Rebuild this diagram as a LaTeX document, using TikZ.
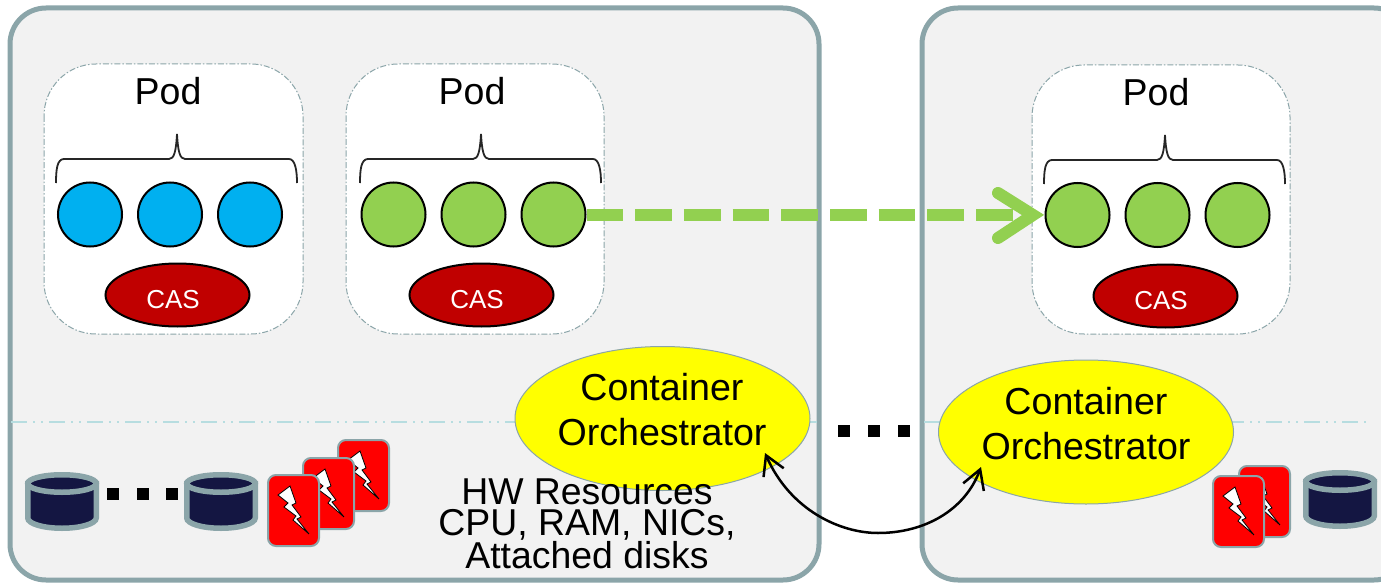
\documentclass[tikz,border=0pt]{standalone}
\usepackage{fontspec}
\setmainfont{Liberation Sans}
\usetikzlibrary{arrows.meta,shapes.geometric}
\definecolor{panelline}{HTML}{8BA5A9}
\definecolor{panelfill}{HTML}{F2F2F2}
\definecolor{sepline}{HTML}{B7DDE0}
\definecolor{cpblue}{HTML}{00B0F0}
\definecolor{cpgreen}{HTML}{92D050}
\definecolor{casred}{HTML}{C00000}
\definecolor{disknavy}{HTML}{141642}
\definecolor{orchyellow}{HTML}{FFFF00}
\definecolor{cardred}{HTML}{FF0000}
\tikzset{
  panelbox/.style={draw=panelline,fill=panelfill,line width=5pt,rounded corners=36pt},
  podbox/.style={draw=panelline,fill=white,line width=1pt,dash pattern=on 6pt off 2pt on 1.5pt off 2pt,rounded corners=52pt},
  sepstyle/.style={draw=sepline,line width=1.5pt,dash pattern=on 16pt off 6pt on 2pt off 6pt on 2pt off 6pt},
  bluec/.style={circle,draw=black,line width=2pt,fill=cpblue,minimum size=64pt,inner sep=0pt},
  greenc/.style={circle,draw=black,line width=2pt,fill=cpgreen,minimum size=64pt,inner sep=0pt},
  casnode/.style={ellipse,draw=black,line width=2pt,fill=casred,minimum width=144pt,minimum height=63pt,inner sep=0pt},
  castext/.style={text=white,font=\fontsize{26}{26}\selectfont,anchor=base,inner sep=0pt},
  podtext/.style={font=\fontsize{37.5}{37.5}\selectfont,anchor=base,inner sep=0pt},
  orchnode/.style={ellipse,draw=panelline,line width=1pt,fill=orchyellow,minimum width=295pt,minimum height=144pt,inner sep=0pt},
  orchtext/.style={font=\fontsize{37.6}{37.6}\selectfont,anchor=base,inner sep=0pt},
  dotbox/.style={fill=black,minimum size=12pt,inner sep=0pt,anchor=north west},
  bracepath/.style={draw=black!85,line width=1.8pt},
}
\newcommand{\podbrace}[2]{%
  \draw[bracepath] (#1-121,#2+49) .. controls (#1-121,#2+36) and (#1-120,#2+25) .. (#1-113,#2+25)
    -- (#1-8,#2+25) .. controls (#1-3,#2+25) and (#1-1,#2+18) .. (#1,#2)
    .. controls (#1+1,#2+18) and (#1+3,#2+25) .. (#1+8,#2+25)
    -- (#1+112,#2+25) .. controls (#1+118,#2+25) and (#1+120,#2+36) .. (#1+120,#2+49);}
\newcommand{\hwcard}[2]{%
  \begin{scope}[shift={(#1,#2)}]
    \draw[draw=panelline,fill=cardred,line width=2pt,rounded corners=8pt] (1,1) rectangle (52,72);
    \draw[draw=black,fill=white,line width=0.8pt,line join=miter]
      (11,21) -- (23,12) -- (29,29) -- (25,31) -- (34,43) -- (30,45) -- (42,60)
      -- (26,46) -- (29,42) -- (17,33) -- (21,29) -- cycle;
  \end{scope}}
\newcommand{\diskicon}[2]{%
  \begin{scope}[shift={(#1,#2)}]
    \draw[draw=panelline,fill=disknavy,line width=5.5pt]
      (2.75,11.5) -- (2.75,46) arc[start angle=180,end angle=0,x radius=34.25,y radius=10.25]
      -- (71.25,11.5) -- cycle;
    \draw[draw=panelline,fill=disknavy,line width=5.5pt]
      (37,11.5) ellipse[x radius=34.25,y radius=8.75];
  \end{scope}}
\begin{document}
\begin{tikzpicture}[x=1pt,y=-1pt]
\useasboundingbox (0,0) rectangle (1381,583);
\clip (0,0) rectangle (1381,583);
\fill[white] (0,0) rectangle (1381,583);
% panels
\draw[panelbox] (10,8) rectangle (819,580);
\draw[panelbox] (922,8) rectangle (1410,580);
% separators
\coordinate (sepa) at (11,422);
\coordinate (sepb) at (817,422);
\coordinate (sepc) at (924,422);
\coordinate (sepd) at (1371,422);
\draw[sepstyle] (sepa) -- (sepb);
\draw[sepstyle] (sepc) -- (sepd);
% pods
\draw[podbox] (44,64) rectangle (303,334);
\draw[podbox] (346,64) rectangle (604,334);
\draw[podbox] (1032,65) rectangle (1290,334);
\podbrace{177}{134}
\podbrace{481}{134}
\podbrace{1165}{135}
\node[podtext] (poda) at (168,104.5) {Pod};
\node[podtext] (podb) at (472,104.5) {Pod};
\node[podtext] (podc) at (1156,105.5) {Pod};
% containers of the first two pods
\node[bluec] (a1) at (90,214.5) {};
\node[bluec] (a2) at (170,214.5) {};
\node[bluec] (a3) at (250,214.5) {};
\node[greenc] (b1) at (393.5,214.5) {};
\node[greenc] (b2) at (473.5,214.5) {};
\node[greenc] (b3) at (553.5,214.5) {};
% migration arrow (its head runs under the circle c1)
\coordinate (headtip) at (1033,215);
\coordinate (heada) at (998,193);
\coordinate (headb) at (998,238);
\draw[draw=cpgreen,line width=12pt,dash pattern=on 36.7pt off 12pt] (b3.east |- headtip) -- (headtip);
\draw[draw=cpgreen,line width=12pt,line cap=round,line join=miter] (heada) -- (headtip) -- (headb);
% containers of the third pod
\node[greenc] (c1) at (1077.5,215) {};
\node[greenc] (c2) at (1157.5,215) {};
\node[greenc] (c3) at (1237.5,215) {};
% CAS
\node[casnode] (casa) at (177.5,295) {};
\node[casnode] (casb) at (481.5,295) {};
\node[casnode] (casc) at (1165.5,296) {};
\node[castext] (casta) at (173,308) {CAS};
\node[castext] (castb) at (477,308) {CAS};
\node[castext] (castc) at (1161,309) {CAS};
% orchestrators
\node[orchnode] (orcha) at (662.5,418.5) {};
\node[orchnode] (orchb) at (1086,432) {};
\node[orchtext] (ta1) at (662,400) {Container};
\node[orchtext] (ta2) at (662,445) {Orchestrator};
\node[orchtext] (tb1) at (1086,414) {Container};
\node[orchtext] (tb2) at (1086,459) {Orchestrator};
% dots
\foreach \x [count=\i] in {838,868,898} \node[dotbox] (da\i) at (\x,425) {};
\foreach \x [count=\i] in {107,137,166} \node[dotbox] (db\i) at (\x,488) {};
% disks
\diskicon{25}{472}
\diskicon{184}{472}
\diskicon{1303}{470}
% cards
\hwcard{337}{439}
\hwcard{302}{457}
\hwcard{267}{474}
\hwcard{1238}{465}
\hwcard{1212}{475}
% HW text
\node[font=\fontsize{37.4}{31}\selectfont,align=center,inner sep=0pt] (hw) at (587,523.5) {HW Resources\\CPU, RAM, NICs,\\Attached disks};
% link
\coordinate (la) at (765,453);
\coordinate (lb) at (981,467);
\draw[draw=black,line width=2.5pt,{Straight Barb[length=19pt,width=22pt,line width=2.5pt]}-{Straight Barb[length=19pt,width=22pt,line width=2.5pt]}]
  (la) .. controls (790,510) and (840,533) .. (878,533) .. controls (925,533) and (965,510) .. (lb);
\end{tikzpicture}
\end{document}
